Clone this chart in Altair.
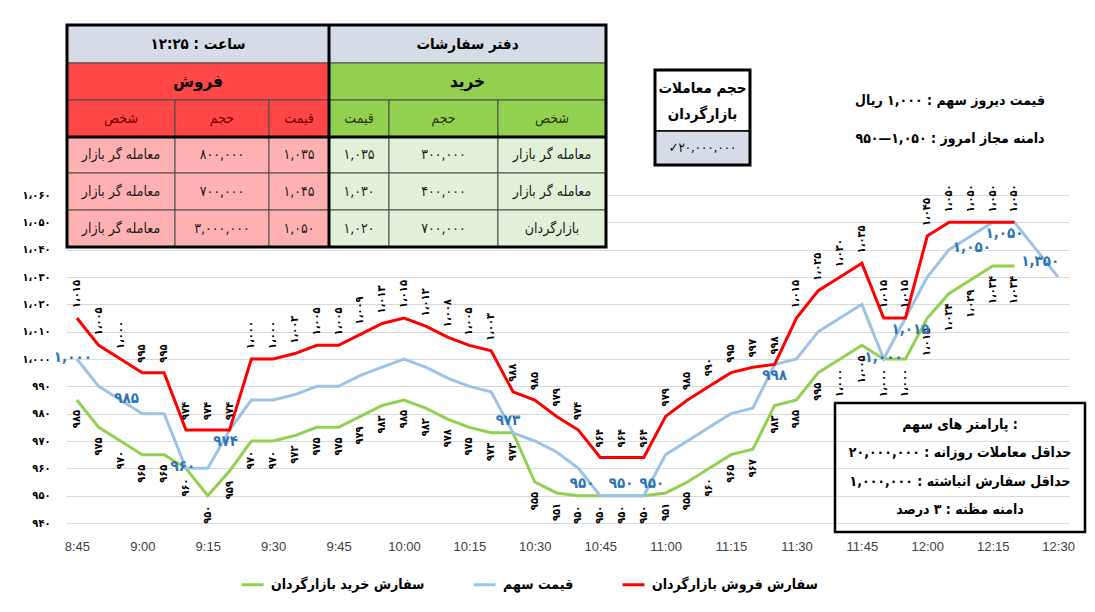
import altair as alt
import pandas as pd

# ---------------- data ----------------
times = ["8:45", "8:50", "8:55", "9:00", "9:05", "9:10", "9:15", "9:20", "9:25", "9:30",
         "9:35", "9:40", "9:45", "9:50", "9:55", "10:00", "10:05", "10:10", "10:15", "10:20",
         "10:25", "10:30", "10:35", "10:40", "10:45", "10:50", "10:55", "11:00", "11:05", "11:10",
         "11:15", "11:20", "11:25", "11:30", "11:35", "11:40", "11:45", "11:50", "11:55", "12:00",
         "12:05", "12:10", "12:15", "12:20", "12:25", "12:30"]
tick_times = ["8:45", "9:00", "9:15", "9:30", "9:45", "10:00", "10:15", "10:30", "10:45",
              "11:00", "11:15", "11:30", "11:45", "12:00", "12:15", "12:30"]
y_ticks = [940, 950, 960, 970, 980, 990, 1000, 1010, 1020, 1030, 1040, 1050, 1060]

sell_order = [1015, 1005, 1000, 995, 995, 974, 974, 974, 1000, 1000, 1002, 1005, 1005, 1009, 1013,
              1015, 1012, 1008, 1005, 1003, 988, 985, 979, 974, 964, 964, 964, 979, 985, 990,
              995, 997, 998, 1015, 1025, 1030, 1035, 1015, 1015, 1045, 1050, 1050, 1050, 1050]
stock_price = [1000, 990, 985, 980, 980, 960, 960, 974, 985, 985, 987, 990, 990, 994, 997,
               1000, 997, 993, 990, 988, 973, 970, 966, 960, 950, 950, 950, 965, 970, 975,
               980, 982, 998, 1000, 1010, 1015, 1020, 1000, 1015, 1030, 1040, 1045, 1050, 1050,
               1040, 1030]
buy_order = [985, 975, 970, 965, 965, 960, 950, 959, 970, 970, 972, 975, 975, 979, 983,
             985, 982, 978, 975, 973, 973, 955, 951, 950, 950, 950, 950, 951, 955, 960,
             965, 967, 983, 985, 995, 1000, 1005, 1000, 1000, 1015, 1024, 1029, 1034, 1034]

price_label_idx = [0, 2, 5, 7, 20, 24, 25, 26, 32, 37, 38, 41, 43, 44]
price_label_val = [1000, 985, 960, 974, 973, 950, 950, 950, 998, 1000, 1015, 1050, 1050, 1350]

series_names = ["سفارش خرید بازارگردان", "قیمت سهم", "سفارش فروش بازارگردان"]
series_colors = ["#92D050", "#9DC3E6", "#FF0000"]

time_text = "ساعت : ۱۲:۲۵"
book_title = "دفتر سفارشات"
sell_title = "فروش"
buy_title = "خرید"
col_person, col_volume, col_price = "شخص", "حجم", "قیمت"
sell_person = ["معامله گر بازار", "معامله گر بازار", "معامله گر بازار"]
sell_volume = [800000, 700000, 3000000]
sell_price = [1035, 1045, 1050]
buy_price = [1035, 1030, 1020]
buy_volume = [300000, 400000, 700000]
buy_person = ["معامله گر بازار", "معامله گر بازار", "بازارگردان"]

volume_title = ["حجم معاملات", "بازارگردان"]
volume_value = 20000000
info_lines = ["قیمت دیروز سهم : ۱,۰۰۰ ریال", "دامنه مجاز امروز : ۱,۰۵۰—۹۵۰"]
param_lines = ["پارامتر های سهم :", "حداقل معاملات روزانه : ۲۰,۰۰۰,۰۰۰",
               "حداقل سفارش انباشته : ۱,۰۰۰,۰۰۰", "دامنه مظنه : ۳ درصد"]

# ---------------- helpers ----------------
FA_DIGITS = str.maketrans("0123456789", "۰۱۲۳۴۵۶۷۸۹")


def fa(n, sep=","):
    return f"{n:,}".replace(",", sep).translate(FA_DIGITS)


FA_FONT = "DejaVu Sans Condensed, DejaVu Sans"
LAT_FONT = "Liberation Sans Narrow, Liberation Sans"

# layout (page pixel coordinates converted to plot-relative)
W, H = 1003, 328
OX, OY = 66, 195


def px(x):
    return x - OX


def py(y):
    return y - OY


xscale = alt.Scale(type="point", domain=times, padding=0.5)
yscale = alt.Scale(domain=[y_ticks[0], y_ticks[-1]], nice=False, zero=False)
step = y_ticks[1] - y_ticks[0]
ylab_expr = "[" + ",".join("'" + fa(v, "،") + "'" for v in y_ticks) + \
    f"][round((datum.value-{y_ticks[0]})/{step})]"

xaxis = alt.Axis(values=tick_times, title=None, labelAngle=0, ticks=False, domain=False,
                 grid=False, labelFont=LAT_FONT, labelFontSize=13, labelColor="#404040",
                 labelPadding=17, labelOverlap=False)
yaxis = alt.Axis(values=y_ticks, title=None, labelExpr=ylab_expr, grid=True,
                 gridColor="#D9D9D9", gridWidth=1, ticks=False, domain=False,
                 labelFont=FA_FONT, labelFontSize=11, labelFontWeight="bold",
                 labelColor="black", labelPadding=16)


def xenc():
    return alt.X("t:O", scale=xscale, axis=xaxis)


def yenc():
    return alt.Y("v:Q", scale=yscale, axis=yaxis)


# ---------------- line data ----------------
rows = []
for name, vals in zip(series_names, [buy_order, stock_price, sell_order]):
    for i, v in enumerate(vals):
        rows.append({"t": times[i], "v": v, "s": name})
lines_df = pd.DataFrame(rows)

lines = alt.Chart(lines_df).mark_line(strokeWidth=3).encode(
    x=xenc(), y=yenc(),
    color=alt.Color("s:N", scale=alt.Scale(domain=series_names, range=series_colors),
                    legend=alt.Legend(orient="none", legendX=174, legendY=377, direction="horizontal",
                                      title=None, symbolType="stroke", symbolSize=484,
                                      symbolStrokeWidth=3, labelFont=FA_FONT, labelFontSize=14,
                                      labelFontWeight="bold", labelColor="black", labelLimit=400,
                                      columnPadding=42, labelOffset=6)),
)

sell_lab = pd.DataFrame({"t": times[:len(sell_order)], "v": sell_order,
                         "lab": [fa(v, "،") for v in sell_order]})
buy_lab = pd.DataFrame({"t": times[:len(buy_order)], "v": buy_order,
                        "lab": [fa(v, "،") for v in buy_order]})


def val_labels(df, **kw):
    return alt.Chart(df).mark_text(angle=270, baseline="middle", font=FA_FONT, fontSize=11,
                                   fontWeight="bold", color="black", **kw).encode(
        x=xenc(), y=yenc(), text="lab:N")


sell_labels = val_labels(sell_lab, align="left", dx=10)
buy_labels = val_labels(buy_lab, align="right", dx=-10)

# blue labels: horizontal nudge and placement relative to the point (layout only)
price_dx = [-4, 6, -3, -4, -5, -18, -1, 8, 0, 0, 5, 1, -10, 4]
price_place = ["center", "center", "center", "below", "above", "above", "above", "above",
               "below", "center", "below", "below", "below", "below"]
place_dy = {"center": -2, "above": -13, "below": 11}
price_lab = pd.DataFrame({"t": [times[i] for i in price_label_idx],
                          "v": [stock_price[i] for i in price_label_idx],
                          "lab": [fa(v) for v in price_label_val],
                          "dx": price_dx, "place": price_place})


def price_layer(place):
    return alt.Chart(price_lab).transform_filter(
        alt.datum.place == place
    ).mark_text(font=FA_FONT, fontSize=15, fontWeight="bold", color="#2E75B6",
                baseline="middle", dy=place_dy[place]).encode(
        x=xenc(), y=yenc(),
        xOffset=alt.XOffset("dx:Q", scale=None),
        text="lab:N")


price_labels = [price_layer(p) for p in place_dy]


# ---------------- pixel-positioned annotations ----------------
def rects(df, **kw):
    return alt.Chart(df).mark_rect(**kw).encode(
        x=alt.X("x0:Q", scale=None, axis=None), x2="x1:Q",
        y=alt.Y("y0:Q", scale=None, axis=None), y2="y1:Q",
        fill=alt.Fill("fill:N", scale=None, legend=None))


def frames(df, **kw):
    return alt.Chart(df).mark_rect(filled=False, **kw).encode(
        x=alt.X("x0:Q", scale=None, axis=None), x2="x1:Q",
        y=alt.Y("y0:Q", scale=None, axis=None), y2="y1:Q")


def rules(df, **kw):
    return alt.Chart(df).mark_rule(**kw).encode(
        x=alt.X("x0:Q", scale=None, axis=None), x2="x1:Q",
        y=alt.Y("y0:Q", scale=None, axis=None), y2="y1:Q")


def texts(items, **kw):
    df = pd.DataFrame(items, columns=["x", "y", "t"])
    return alt.Chart(df).mark_text(baseline="middle", align="center", **kw).encode(
        x=alt.X("x:Q", scale=None, axis=None),
        y=alt.Y("y:Q", scale=None, axis=None),
        text="t:N")


# table geometry (page px)
sc = [67, 175, 269, 329]
bc = [329, 389, 498, 606]
re_ = [25, 63, 100, 137, 173, 210, 247]
C_HEAD, C_RED, C_PINK, C_GREEN, C_LGREEN = "#D6DCE5", "#FF4747", "#FFB1B1", "#92D050", "#E2F0D9"

cells = []


def cell(x0, x1, y0, y1, fill):
    cells.append({"x0": px(x0), "x1": px(x1), "y0": py(y0), "y1": py(y1), "fill": fill})


cell(sc[0], sc[3], re_[0], re_[1], C_HEAD)
cell(bc[0], bc[3], re_[0], re_[1], C_HEAD)
cell(sc[0], sc[3], re_[1], re_[2], C_RED)
cell(bc[0], bc[3], re_[1], re_[2], C_GREEN)
for c in range(3):
    cell(sc[c], sc[c + 1], re_[2], re_[3], C_RED)
    cell(bc[c], bc[c + 1], re_[2], re_[3], C_GREEN)
    for r in range(3):
        cell(sc[c], sc[c + 1], re_[3 + r], re_[4 + r], C_PINK)
        cell(bc[c], bc[c + 1], re_[3 + r], re_[4 + r], C_LGREEN)
table_cells = rects(pd.DataFrame(cells), stroke="#4A4A4A", strokeWidth=1)

table_frame = frames(pd.DataFrame([{"x0": px(sc[0]), "x1": px(bc[3]), "y0": py(re_[0]), "y1": py(re_[6])}]),
                     stroke="black", strokeWidth=3)
table_rules = rules(pd.DataFrame([
    {"x0": px(sc[3]), "x1": px(sc[3]), "y0": py(re_[0]), "y1": py(re_[6])},
    {"x0": px(sc[0]), "x1": px(bc[3]), "y0": py(re_[3]), "y1": py(re_[3])},
]), stroke="black", strokeWidth=3)


def mid(a, b):
    return (a + b) / 2


def cx(cols, c):
    return px(mid(cols[c], cols[c + 1]))


def ry(r):
    return py(mid(re_[r], re_[r + 1]))


t_head = texts([(px(mid(sc[0], sc[3])), ry(0), time_text),
                (px(mid(bc[0], bc[3])), ry(0), book_title)],
               font=FA_FONT, fontSize=15, fontWeight="bold", color="black")
t_title = texts([(px(mid(sc[0], sc[3])), ry(1), sell_title),
                 (px(mid(bc[0], bc[3])), ry(1), buy_title)],
                font=FA_FONT, fontSize=17, fontWeight="bold", color="black")
t_sell_cols = texts([(cx(sc, 0), ry(2), col_person), (cx(sc, 1), ry(2), col_volume),
                     (cx(sc, 2), ry(2), col_price)],
                    font=FA_FONT, fontSize=14, color="#7A0000")
t_buy_cols = texts([(cx(bc, 0), ry(2), col_price), (cx(bc, 1), ry(2), col_volume),
                    (cx(bc, 2), ry(2), col_person)],
                   font=FA_FONT, fontSize=14, color="#1F3A0F")
data_items = []
for r in range(3):
    data_items += [(cx(sc, 0), ry(3 + r), sell_person[r]),
                   (cx(sc, 1), ry(3 + r), fa(sell_volume[r])),
                   (cx(sc, 2), ry(3 + r), fa(sell_price[r])),
                   (cx(bc, 0), ry(3 + r), fa(buy_price[r])),
                   (cx(bc, 1), ry(3 + r), fa(buy_volume[r])),
                   (cx(bc, 2), ry(3 + r), buy_person[r])]
t_data = texts(data_items, font=FA_FONT, fontSize=14, color="#1A1A1A")

# volume box
vb = {"x0": 655, "x1": 750, "y0": 70, "ym": 131, "y1": 165}
vol_rects = rects(pd.DataFrame([
    {"x0": px(vb["x0"]), "x1": px(vb["x1"]), "y0": py(vb["y0"]), "y1": py(vb["ym"]), "fill": "white"},
    {"x0": px(vb["x0"]), "x1": px(vb["x1"]), "y0": py(vb["ym"]), "y1": py(vb["y1"]), "fill": "#D6DCE5"},
]), stroke="black", strokeWidth=1.5)
vol_frame = frames(pd.DataFrame([{"x0": px(vb["x0"]), "x1": px(vb["x1"]),
                                  "y0": py(vb["y0"]), "y1": py(vb["y1"])}]),
                   stroke="black", strokeWidth=3)
vcx = px(mid(vb["x0"], vb["x1"]))
t_vol_title = texts([(vcx, py(88), volume_title[0]), (vcx, py(114), volume_title[1])],
                    font=FA_FONT, fontSize=15, fontWeight="bold", color="black")
t_vol_val = texts([(vcx, py(148), "✓" + fa(volume_value))],
                  font=FA_FONT, fontSize=13, color="black")

# info text
t_info = texts([(px(950), py(101), info_lines[0]), (px(950), py(139), info_lines[1])],
               font=FA_FONT, fontSize=14, fontWeight="bold", color="black")

# parameter box
pb = {"x0": 835, "x1": 1085, "y0": 403, "y1": 532}
param_frame = frames(pd.DataFrame([{"x0": px(pb["x0"]), "x1": px(pb["x1"]),
                                    "y0": py(pb["y0"]), "y1": py(pb["y1"])}]),
                     stroke="black", strokeWidth=2.5)
param_y = [425, 453, 482, 510]
t_param = texts([(px(960), py(yy), s) for yy, s in zip(param_y, param_lines)],
                font=FA_FONT, fontSize=14, fontWeight="bold", color="black")

chart = alt.layer(
    lines, sell_labels, buy_labels, *price_labels,
    table_cells, table_frame, table_rules,
    t_head, t_title, t_sell_cols, t_buy_cols, t_data,
    vol_rects, vol_frame, t_vol_title, t_vol_val,
    t_info, param_frame, t_param,
).properties(
    width=W, height=H,
    autosize=alt.AutoSizeParams(type="none"),
    padding={"left": 58, "top": 187, "right": 18, "bottom": 81},
    background="white",
).configure_view(stroke=None)

chart.save("out.html", embed_options={"renderer": "svg", "actions": False})
